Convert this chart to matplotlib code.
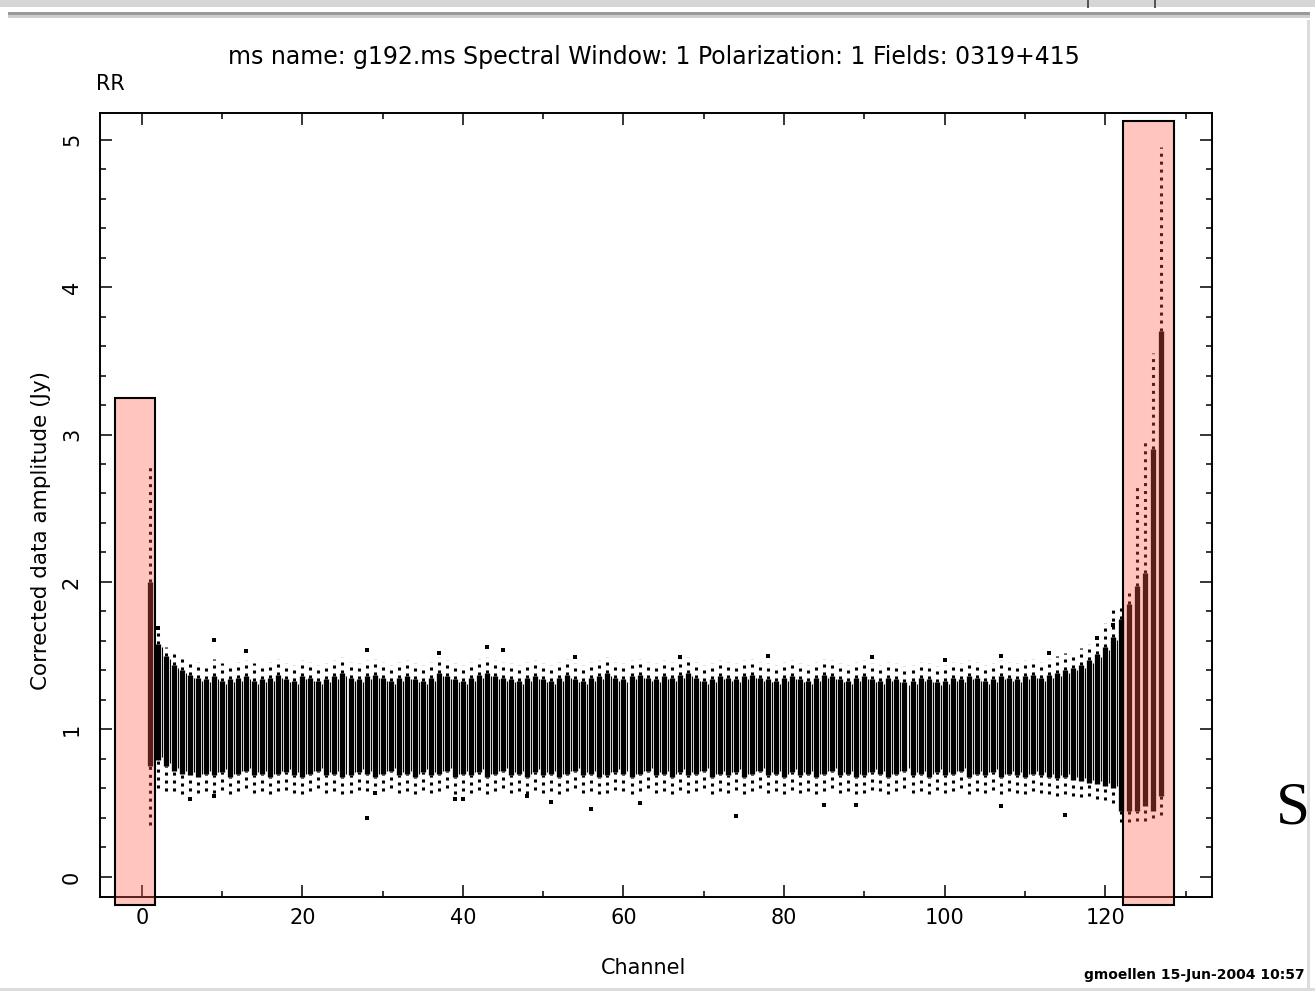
import numpy as np
import matplotlib
matplotlib.use('Agg')
import matplotlib.pyplot as plt
from matplotlib.patches import Rectangle

W, H = 1315, 993

# channel numbers 0..127 (channel 0 has no data)
channels = np.arange(128)

# dense part of each channel column (Jy)
core_hi = [np.nan, 2.00, 1.58, 1.50, 1.44, 1.40, 1.37, 1.35,
           1.34, 1.36, 1.33, 1.34, 1.35, 1.36, 1.33, 1.34,
           1.35, 1.37, 1.34, 1.33, 1.36, 1.35, 1.33, 1.34,
           1.36, 1.38, 1.35, 1.34, 1.36, 1.37, 1.35, 1.33,
           1.35, 1.36, 1.34, 1.33, 1.35, 1.38, 1.36, 1.34,
           1.33, 1.35, 1.37, 1.38, 1.36, 1.35, 1.34, 1.33,
           1.35, 1.36, 1.34, 1.33, 1.35, 1.37, 1.34, 1.33,
           1.35, 1.36, 1.38, 1.35, 1.34, 1.36, 1.37, 1.35,
           1.34, 1.36, 1.35, 1.37, 1.38, 1.35, 1.33, 1.34,
           1.36, 1.35, 1.34, 1.36, 1.37, 1.35, 1.34, 1.33,
           1.35, 1.36, 1.34, 1.33, 1.35, 1.37, 1.36, 1.34,
           1.33, 1.35, 1.36, 1.34, 1.33, 1.35, 1.34, 1.32,
           1.33, 1.35, 1.34, 1.32, 1.33, 1.35, 1.34, 1.36,
           1.35, 1.33, 1.34, 1.36, 1.35, 1.34, 1.36, 1.37,
           1.35, 1.37, 1.38, 1.40, 1.42, 1.44, 1.47, 1.51,
           1.56, 1.63, 1.75, 1.85, 1.97, 2.06, 2.90, 3.70]
core_lo = [np.nan, 0.75, 0.79, 0.75, 0.72, 0.70, 0.69, 0.68,
           0.70, 0.69, 0.71, 0.68, 0.70, 0.72, 0.69, 0.70,
           0.68, 0.70, 0.71, 0.69, 0.68, 0.70, 0.72, 0.69,
           0.70, 0.68, 0.69, 0.71, 0.70, 0.68, 0.70, 0.72,
           0.69, 0.70, 0.68, 0.71, 0.69, 0.70, 0.72, 0.68,
           0.70, 0.69, 0.71, 0.68, 0.70, 0.72, 0.69, 0.70,
           0.68, 0.71, 0.69, 0.70, 0.68, 0.70, 0.72, 0.69,
           0.70, 0.68, 0.69, 0.71, 0.70, 0.68, 0.70, 0.72,
           0.69, 0.70, 0.68, 0.71, 0.69, 0.70, 0.72, 0.68,
           0.70, 0.69, 0.71, 0.68, 0.70, 0.72, 0.69, 0.70,
           0.68, 0.71, 0.69, 0.70, 0.68, 0.70, 0.72, 0.69,
           0.70, 0.68, 0.69, 0.71, 0.70, 0.68, 0.70, 0.72,
           0.69, 0.70, 0.68, 0.71, 0.69, 0.70, 0.72, 0.68,
           0.70, 0.69, 0.71, 0.68, 0.70, 0.69, 0.68, 0.70,
           0.69, 0.68, 0.67, 0.68, 0.66, 0.65, 0.64, 0.63,
           0.62, 0.60, 0.45, 0.45, 0.45, 0.48, 0.45, 0.55]
# sparse envelope above / below the dense part
env_hi = [np.nan, 2.80, 1.66, 1.56, 1.52, 1.50, 1.46, 1.46,
          1.44, 1.48, 1.45, 1.44, 1.46, 1.47, 1.45, 1.44,
          1.46, 1.48, 1.45, 1.44, 1.47, 1.46, 1.44, 1.45,
          1.47, 1.49, 1.46, 1.45, 1.47, 1.48, 1.46, 1.44,
          1.46, 1.47, 1.45, 1.44, 1.46, 1.49, 1.47, 1.45,
          1.44, 1.46, 1.48, 1.49, 1.47, 1.46, 1.45, 1.44,
          1.46, 1.47, 1.45, 1.44, 1.46, 1.48, 1.45, 1.44,
          1.46, 1.47, 1.49, 1.46, 1.45, 1.47, 1.48, 1.46,
          1.45, 1.47, 1.46, 1.48, 1.49, 1.46, 1.44, 1.45,
          1.47, 1.46, 1.45, 1.47, 1.48, 1.46, 1.45, 1.44,
          1.46, 1.47, 1.45, 1.44, 1.46, 1.48, 1.47, 1.45,
          1.44, 1.46, 1.47, 1.45, 1.44, 1.46, 1.45, 1.43,
          1.44, 1.46, 1.45, 1.43, 1.44, 1.46, 1.45, 1.47,
          1.46, 1.44, 1.45, 1.47, 1.46, 1.45, 1.47, 1.48,
          1.46, 1.48, 1.50, 1.52, 1.50, 1.55, 1.58, 1.60,
          1.72, 1.83, 1.85, 1.95, 2.65, 2.95, 3.55, 4.95]
env_lo = [np.nan, 0.35, 0.60, 0.58, 0.58, 0.56, 0.58, 0.57,
          0.58, 0.57, 0.59, 0.56, 0.58, 0.60, 0.57, 0.58,
          0.56, 0.58, 0.59, 0.57, 0.56, 0.58, 0.60, 0.57,
          0.58, 0.56, 0.57, 0.59, 0.58, 0.56, 0.58, 0.60,
          0.57, 0.58, 0.56, 0.59, 0.57, 0.58, 0.60, 0.56,
          0.58, 0.57, 0.59, 0.56, 0.58, 0.60, 0.57, 0.58,
          0.56, 0.59, 0.57, 0.58, 0.56, 0.58, 0.60, 0.57,
          0.58, 0.56, 0.57, 0.59, 0.58, 0.56, 0.58, 0.60,
          0.57, 0.58, 0.56, 0.59, 0.57, 0.58, 0.60, 0.56,
          0.58, 0.57, 0.59, 0.56, 0.58, 0.60, 0.57, 0.58,
          0.56, 0.59, 0.57, 0.58, 0.56, 0.58, 0.60, 0.57,
          0.58, 0.56, 0.57, 0.59, 0.58, 0.56, 0.58, 0.60,
          0.57, 0.58, 0.56, 0.59, 0.57, 0.58, 0.60, 0.56,
          0.58, 0.57, 0.59, 0.56, 0.58, 0.57, 0.56, 0.58,
          0.57, 0.56, 0.55, 0.56, 0.55, 0.54, 0.55, 0.53,
          0.52, 0.50, 0.37, 0.37, 0.38, 0.38, 0.40, 0.42]

# isolated points
outlier_ch = [2, 9, 13, 28, 37, 43, 45, 54, 67, 78, 91, 100, 107, 113, 119, 121,
              6, 9, 28, 29, 39, 40, 48, 51, 56, 62, 74, 85, 89, 107, 115]
outlier_val = [1.69, 1.61, 1.53, 1.54, 1.52, 1.56, 1.54, 1.49, 1.49, 1.50, 1.49, 1.47, 1.50, 1.52, 1.62, 1.71,
               0.53, 0.55, 0.40, 0.57, 0.53, 0.53, 0.55, 0.51, 0.46, 0.50, 0.41, 0.49, 0.49, 0.48, 0.42]

title = "ms name: g192.ms Spectral Window: 1 Polarization: 1 Fields: 0319+415"

fig = plt.figure(figsize=(W / 100, H / 100), dpi=100)
fig.patch.set_facecolor('white')


def px_rect(x0, y0, x1, y1, color, z=0):
    r = Rectangle((x0 / W, 1 - y1 / H), (x1 - x0) / W, (y1 - y0) / H,
                  transform=fig.transFigure, facecolor=color, edgecolor='none', zorder=z)
    fig.add_artist(r)


# screenshot chrome
px_rect(0, 0, W, 7, '#d6d6d6')
px_rect(8, 12, 1310, 15, '#9a9a9a')
px_rect(8, 15, 1310, 18, '#cfcfcf')
px_rect(1087, 0, 1089, 8, '#555555')
px_rect(1154, 0, 1156, 8, '#555555')

ax = fig.add_axes([100 / W, 1 - 897 / H, 1112 / W, 784 / H])
ax.set_xlim(-5.2, 133.3)
ax.set_ylim(-0.136, 5.18)

ch = np.asarray(channels, dtype=float)
hi = np.asarray(core_hi)
lo = np.asarray(core_lo)
ehi = np.asarray(env_hi)
elo = np.asarray(env_lo)
ok = ~np.isnan(hi)

ax.vlines(ch[ok], lo[ok], hi[ok], colors='black', linewidth=3.8, zorder=2)
ax.vlines(ch[ok][1:-6] + 0.5, lo[ok][1:-6] + 0.02, hi[ok][1:-6] - 0.02,
          colors='black', linewidth=0.8, zorder=2)
ax.vlines(ch[ok], hi[ok], ehi[ok], colors='black', linewidth=2.2,
          linestyles=[(0, (1, 1.6))], zorder=2)
ax.vlines(ch[ok], elo[ok], lo[ok], colors='black', linewidth=2.2,
          linestyles=[(0, (1, 1.6))], zorder=2)
ax.scatter(outlier_ch, outlier_val, marker='s', s=5, c='black', linewidths=0, zorder=2)

# highlight boxes
for x0, x1, y1 in [(-3.36, 1.62, 3.25), (122.2, 128.6, 5.125)]:
    ax.add_patch(Rectangle((x0, -0.19), x1 - x0, y1 + 0.19,
                           facecolor=(1.0, 0.35, 0.27, 0.35), edgecolor='black',
                           linewidth=1.5, clip_on=False, zorder=5))

ax.set_xticks(range(0, 121, 20))
ax.set_xticks(range(10, 131, 20), minor=True)
ax.set_yticks(range(0, 6))
ax.set_yticks(np.arange(0.2, 5.1, 0.2), minor=True)
ax.tick_params(which='both', direction='in', top=True, right=True, width=1.1)
ax.tick_params(which='major', length=8.5, labelsize=15)
ax.tick_params(which='minor', length=4.3)
ax.tick_params(axis='x', pad=8)
ax.tick_params(axis='y', pad=13)
for lab in ax.get_yticklabels():
    lab.set_rotation(90)
    lab.set_va('center')
for s in ax.spines.values():
    s.set_linewidth(1.4)

fig.text(654 / W, 1 - 57 / H, title, ha='center', va='center', fontsize=17)
fig.text(96 / W, 1 - 84 / H, "RR", ha='left', va='center', fontsize=15)
fig.text(644 / W, 1 - 968 / H, "Channel", ha='center', va='center', fontsize=15)
fig.text(41 / W, 1 - 530 / H, "Corrected data amplitude (Jy)", ha='center', va='center',
         rotation=90, fontsize=15.5)
fig.text(1305 / W, 1 - 975 / H, "gmoellen 15-Jun-2004 10:57", ha='right', va='center',
         fontsize=10, fontweight='bold')
fig.text(1276 / W, 1 - 823 / H, "Se", ha='left', va='baseline', fontsize=44,
         family=['Liberation Serif', 'DejaVu Serif'])

px_rect(1307, 20, 1310, 990, '#dcdcdc', z=10)
px_rect(1310, 20, W, 990, 'white', z=10)
px_rect(0, 988, W, 991, '#dcdcdc', z=10)

fig.savefig('out.png', dpi=100)
